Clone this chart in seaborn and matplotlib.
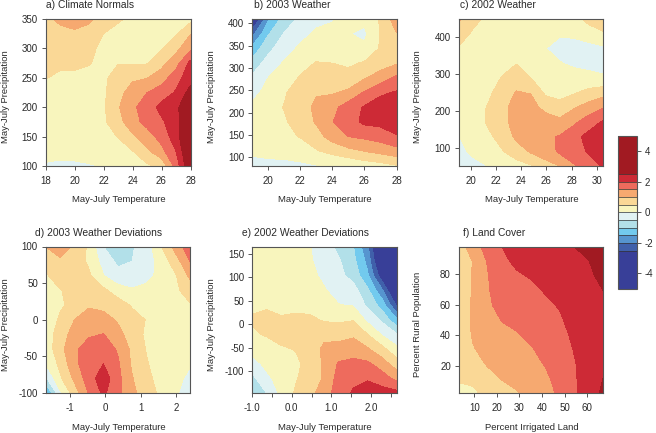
import numpy as np
import matplotlib
matplotlib.use("Agg")
import matplotlib.pyplot as plt
from matplotlib.colors import ListedColormap, BoundaryNorm
import seaborn as sns

levels = [-5, -2.5, -2, -1.5, -1, -0.5, 0, 0.5, 1, 1.5, 2, 2.5, 5]
band_colors = ["#383F98", "#4060AA", "#5695CF", "#72CAEE", "#B2E0E9", "#E1F2F3",
               "#F8F5BD", "#FAD896", "#F6A970", "#EE6B5D", "#CD2A36", "#A11A22"]
cbar_ticks = [-4, -2, 0, 2, 4]

titles = ["a) Climate Normals", "b) 2003 Weather", "c) 2002 Weather",
          "d) 2003 Weather Deviations", "e) 2002 Weather Deviations", "f) Land Cover"]
temp_label = "May-July Temperature"
prec_label = "May-July Precipitation"

# panel a: rows of z (bottom to top), columns left to right
a_x = [18, 19, 20, 21, 22, 23, 24, 25, 26, 27, 28]
a_y = [100, 125, 150, 175, 200, 225, 250, 275, 300, 325, 350]
a_rows = [
    [-.05, -.1, -.08, -.03, .02, .1, .28, .42, .65, 1.7, 3.0],
    [.15, .15, .15, .15, .2, .3, .48, .9, 1.35, 2.0, 3.2],
    [.2, .2, .2, .22, .3, .52, .92, 1.25, 1.7, 2.25, 3.3],
    [.2, .22, .22, .25, .42, .82, 1.3, 1.68, 1.92, 2.3, 3.2],
    [.22, .22, .22, .25, .42, .95, 1.4, 1.75, 2.15, 2.35, 3.1],
    [.25, .25, .25, .28, .42, .85, 1.2, 1.5, 1.75, 2.05, 2.7],
    [.52, .42, .42, .4, .4, .72, .92, .98, 1.25, 1.8, 2.3],
    [.65, .58, .58, .52, .4, .48, .44, .47, .85, 1.3, 2.15],
    [.72, .7, .7, .58, .42, .38, .38, .4, .45, .85, 1.4],
    [.8, .85, .92, .8, .5, .38, .34, .32, .35, .44, .98],
    [.9, 1.1, 1.2, 1.1, .8, .55, .42, .35, .3, .3, .35],
]

# panels b-f: one list per x column, bottom to top
b_x = [19, 20, 21, 22, 23, 24, 25, 26, 27, 28]
b_y = [80, 113, 146, 179, 212, 245, 278, 311, 344, 377, 410]
b_cols = [
    [-.1, .05, .2, .2, .1, -.15, -.42, -.8, -1.35, -2.2, -3.3],
    [-.1, .1, .3, .35, .3, .15, 0, -.3, -.65, -1.05, -1.6],
    [-.08, .1, .35, .45, .52, .45, .2, .05, -.2, -.47, -.8],
    [-.06, .15, .53, .68, .75, .72, .55, .3, .08, -.13, -.4],
    [-.03, .45, .8, 1.05, 1.12, .95, .75, .53, .2, .06, -.1],
    [-.03, .65, 1.2, 1.48, 1.35, .95, .75, .5, .28, .15, -.04],
    [.05, .85, 1.5, 1.8, 1.75, 1.1, .68, .42, .2, .02, .12],
    [.2, 1.0, 1.6, 2.1, 2.05, 1.55, .95, .55, .1, -.1, .12],
    [.3, 1.15, 1.72, 2.15, 2.3, 1.9, 1.25, .75, .55, .52, .55],
    [.45, 1.3, 1.95, 2.3, 2.4, 2.05, 1.6, .95, .8, .98, 1.3],
]

c_x = [19, 20.15, 21.3, 22.45, 23.6, 24.75, 25.9, 27.05, 28.2, 29.35, 30.5]
c_y = [50, 90, 130, 170, 210, 250, 290, 330, 370, 410, 450]
c_cols = [
    [-.2, -.1, -.01, .1, .18, .22, .27, .35, .47, .7, 1.1],
    [-.1, .07, .15, .25, .3, .3, .3, .3, .33, .44, .62],
    [0, .2, .4, .55, .52, .38, .27, .25, .25, .3, .42],
    [.07, .47, .65, .8, .85, .72, .52, .35, .22, .22, .3],
    [.3, .75, 1.1, 1.25, 1.2, 1.03, .75, .48, .2, .18, .22],
    [.45, 1.07, 1.3, 1.35, 1.25, .97, .5, .33, .2, .15, .2],
    [.85, 1.2, 1.42, 1.35, .8, .42, .27, .1, .01, .1, .2],
    [1.0, 1.6, 1.53, 1.15, .6, .4, .2, .02, -.12, .04, .2],
    [1.45, 1.8, 1.85, 1.4, .95, .45, .15, -.07, -.18, .08, .32],
    [1.8, 2.05, 2.15, 1.75, 1.2, .65, .1, -.1, -.17, .25, .65],
    [2.05, 2.3, 2.35, 2.05, 1.45, .8, .05, -.15, -.1, .45, .75],
]

d_x = [-1.7, -1.29, -.88, -.47, -.06, .35, .76, 1.17, 1.58, 1.99, 2.4]
d_y = [-100, -80, -60, -40, -20, 0, 20, 40, 60, 80, 100]
d_cols = [
    [-1.7, -.6, .02, .15, .2, .25, .3, .38, .45, .65, 1.0],
    [-.1, .42, .62, .85, .75, .55, .45, .48, .68, .95, 1.15],
    [.75, 1.1, 1.35, 1.35, 1.2, 1.0, .6, .62, .65, .75, .95],
    [1.55, 1.75, 1.85, 1.85, 1.4, 1.2, .95, .7, .58, .42, .4],
    [2.1, 2.3, 2.0, 1.75, 1.52, 1.2, .85, .62, .03, -.2, -.5],
    [1.65, 1.65, 1.58, 1.45, 1.15, .95, .75, .25, -.35, -.6, -.65],
    [1.12, 1.03, .92, .88, .78, .68, .45, .05, -.28, -.5, -.55],
    [.72, .6, .53, .47, .4, .48, .3, .12, -.12, -.25, -.25],
    [.4, .35, .3, .3, .3, .3, .27, .2, .12, .2, .47],
    [.03, .1, .2, .25, .28, .3, .35, .4, .45, .78, 1.2],
    [-.12, -.08, .03, .13, .25, .37, .45, .75, 1.1, 1.5, 1.85],
]

e_x = [-1, -.636, -.272, .092, .456, .82, 1.184, 1.548, 1.912, 2.276, 2.64]
e_y = [-146, -115, -84, -52, -21, 10, 41, 72, 104, 135, 166]
e_cols = [
    [-.9, -.65, -.2, .2, .45, .53, .45, .4, .35, .35, .35],
    [-.5, -.12, .12, .35, .53, .62, .45, .38, .35, .33, .33],
    [.12, .2, .3, .45, .65, .55, .38, .33, .3, .3, .3],
    [.55, .45, .4, .52, .7, .62, .35, .28, .25, .2, .15],
    [.85, .75, .65, .7, .75, .6, .33, .22, .15, .07, .02],
    [1.25, 1.05, 1.08, 1.12, .85, .45, .22, .05, -.12, -.25, -.32],
    [1.75, 1.7, 1.55, 1.2, .8, .42, .02, -.2, -.38, -.45, -.6],
    [2.05, 1.9, 1.62, 1.3, .9, .47, -.03, -.3, -.65, -.85, -.98],
    [2.25, 1.95, 1.6, 1.05, .5, -.12, -.6, -.88, -1.42, -1.65, -1.9],
    [2.2, 1.75, 1.25, .65, -.05, -.6, -1.2, -1.9, -2.85, -3.5, -3.8],
    [2.15, 1.35, .75, .13, -.45, -1.4, -2.55, -3.4, -4, -4.3, -4.5],
]

f_x = [3, 9.4, 15.8, 22.2, 28.6, 35, 41.4, 47.8, 54.2, 60.6, 67]
f_y = [2.7, 12.2, 21.7, 31.2, 40.7, 50.2, 59.7, 69.2, 78.7, 88.2, 97.7]
f_cols = [
    [.45, .52, .55, .6, .65, .65, .6, .52, .45, .48, .8],
    [.4, .62, .75, .97, 1.05, 1.08, 1.08, 1.06, 1.05, 1.03, 1.2],
    [.65, .8, 1.05, 1.15, 1.2, 1.3, 1.42, 1.45, 1.47, 1.53, 1.75],
    [.8, 1.03, 1.15, 1.25, 1.38, 1.52, 1.65, 1.75, 1.83, 1.92, 2.0],
    [.97, 1.1, 1.2, 1.33, 1.47, 1.6, 1.75, 1.85, 1.95, 2.07, 2.2],
    [1.15, 1.25, 1.35, 1.46, 1.6, 1.7, 1.8, 1.9, 2.03, 2.15, 2.25],
    [1.3, 1.4, 1.53, 1.65, 1.75, 1.83, 1.93, 2.03, 2.13, 2.25, 2.35],
    [1.6, 1.68, 1.73, 1.8, 1.87, 1.95, 2.03, 2.13, 2.22, 2.32, 2.42],
    [1.93, 1.95, 1.97, 2.02, 2.08, 2.15, 2.22, 2.28, 2.35, 2.42, 2.5],
    [2.2, 2.2, 2.2, 2.2, 2.22, 2.27, 2.33, 2.38, 2.43, 2.49, 2.62],
    [2.6, 2.5, 2.45, 2.42, 2.42, 2.43, 2.46, 2.5, 2.6, 2.7, 2.85],
]

a_xticks = [18, 20, 22, 24, 26, 28]
a_yticks = [100, 150, 200, 250, 300, 350]
b_xticks = [20, 22, 24, 26, 28]
b_yticks = [100, 150, 200, 250, 300, 350, 400]
c_xticks = [20, 22, 24, 26, 28, 30]
c_yticks = [100, 200, 300, 400]
d_xticks = [-1, 0, 1, 2]
d_yticks = [-100, -50, 0, 50, 100]
e_xticks = [-1, -.5, 0, .5, 1, 1.5, 2, 2.5]
e_xticklabels = ["-1.0", "", "0.0", "", "1.0", "", "2.0", ""]
e_yticks = [-100, -50, 0, 50, 100, 150]
f_xticks = [10, 20, 30, 40, 50, 60]
f_yticks = [20, 40, 60, 80]

W, H = 656, 433
TXT = "#2a2a2a"
EDGE = "#555555"
sns.set_theme(style="ticks")
plt.rcParams["font.family"] = ["Liberation Sans", "DejaVu Sans"]
plt.rcParams["axes.unicode_minus"] = False
fig = plt.figure(figsize=(W / 100, H / 100), dpi=100, facecolor="white")


def box(l, t, r, b):
    return [l / W, 1 - b / H, (r - l) / W, (b - t) / H]


cmap = ListedColormap(sns.color_palette(band_colors))
norm = BoundaryNorm(levels, cmap.N)

panels = [
    (a_x, a_y, np.array(a_rows), a_xticks, a_yticks, None, temp_label, prec_label,
     (45.5, 19, 190.5, 166), 45.5, 5.5, 5.5),
    (b_x, b_y, np.array(b_cols).T, b_xticks, b_yticks, None, temp_label, prec_label,
     (252, 19, 396.5, 166), 254, 5.5, 212),
    (c_x, c_y, np.array(c_cols).T, c_xticks, c_yticks, None, temp_label, prec_label,
     (458.5, 19, 603, 166), 460, 5.5, 418),
    (d_x, d_y, np.array(d_cols).T, d_xticks, d_yticks, None, temp_label, prec_label,
     (45.5, 246.5, 190, 393), 35, 232.5, 5.5),
    (e_x, e_y, np.array(e_cols).T, e_xticks, e_yticks, e_xticklabels, temp_label, prec_label,
     (252, 246.5, 396.5, 393), 242, 232.5, 212),
    (f_x, f_y, np.array(f_cols).T, f_xticks, f_yticks, None,
     "Percent Irrigated Land", "Percent Rural Population",
     (458.5, 246.5, 603, 393), 463, 232.5, 418),
]

cs = None
for (xs, ys, z, xt, yt, xtl, xl, yl, px, tx, ty, ylx), title in zip(panels, titles):
    ax = fig.add_axes(box(*px))
    cs = ax.contourf(xs, ys, z, levels=levels, cmap=cmap, norm=norm)
    ax.set_xlim(xs[0], xs[-1])
    ax.set_ylim(ys[0], ys[-1])
    ax.set_xticks(xt)
    if xtl:
        ax.set_xticklabels(xtl)
    ax.set_yticks(yt)
    ax.tick_params(axis="both", direction="out", length=2.9, width=0.7, color=EDGE,
                   labelsize=7.0, labelcolor=TXT, pad=2.6)
    ax.tick_params(axis="x", pad=4.0)
    for s in ax.spines.values():
        s.set_color(EDGE)
        s.set_linewidth(0.8)
    fig.text(tx / W, 1 - ty / H, title, ha="left", va="center", fontsize=7.4, color=TXT)
    fig.text(((px[0] + px[2]) / 2 + 1) / W, 1 - (px[3] + 34) / H, xl, ha="center", va="center",
             fontsize=6.8, color=TXT)
    fig.text(ylx / W, 1 - ((px[1] + px[3]) / 2 + 4.5) / H, yl, ha="center", va="center",
             rotation=90, fontsize=6.8, color=TXT)

cax = fig.add_axes(box(618.3, 136, 636.7, 288.7))
cb = fig.colorbar(cs, cax=cax, ticks=cbar_ticks, spacing="proportional", drawedges=True)
cb.dividers.set_color("#333333")
cb.dividers.set_linewidth(0.5)
cb.outline.set_edgecolor(EDGE)
cb.outline.set_linewidth(0.8)
cax.tick_params(axis="y", direction="out", length=2.9, width=0.7, color=EDGE,
                labelsize=7.0, labelcolor=TXT, pad=2.6)
cax.minorticks_off()
fig.savefig("out.png", dpi=100, facecolor="white")
